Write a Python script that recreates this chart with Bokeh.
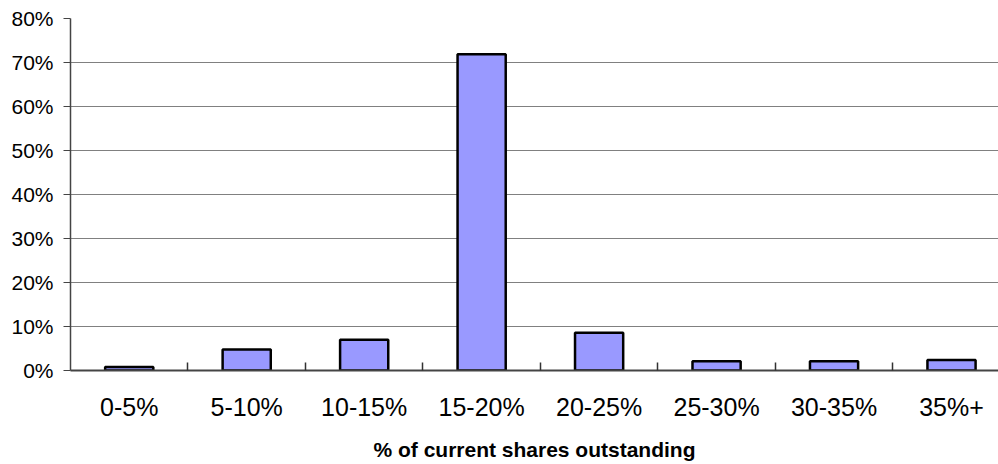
from bokeh.plotting import figure
from bokeh.models import Range1d, FixedTicker, NumeralTickFormatter
from bokeh.embed import file_html
from bokeh.resources import INLINE

categories = ["0-5%", "5-10%", "10-15%", "15-20%", "20-25%", "25-30%", "30-35%", "35%+"]
shares = [0.008, 0.048, 0.070, 0.719, 0.086, 0.021, 0.021, 0.024]
y_ticks = [0.0, 0.1, 0.2, 0.3, 0.4, 0.5, 0.6, 0.7, 0.8]
x_title = "% of current shares outstanding"

n = len(categories)
centers = [i + 0.5 for i in range(n)]
bounds = [i for i in range(1, n)]

p = figure(width=998, height=464, output_backend="svg", toolbar_location=None,
           x_range=Range1d(0, 7.9), y_range=Range1d(0, 0.8),
           min_border_left=70, min_border_right=0, min_border_top=18, min_border_bottom=94)
p.outline_line_color = None
p.background_fill_color = "white"
p.border_fill_color = "white"

p.vbar(x=centers, top=shares, width=0.41, fill_color="#9999FF",
       line_color="black", line_width=2.5)

# x axis
p.xaxis.ticker = FixedTicker(ticks=centers, minor_ticks=bounds)
p.xaxis.major_label_overrides = {c: lab for c, lab in zip(centers, categories)}
p.xaxis.major_tick_in = 0
p.xaxis.major_tick_out = 0
p.xaxis.minor_tick_in = 8
p.xaxis.minor_tick_out = 0
p.xaxis.minor_tick_line_color = "#333333"
p.xaxis.minor_tick_line_width = 1.5
p.xaxis.axis_line_color = "#444444"
p.xaxis.axis_line_width = 2
p.xaxis.major_label_text_font = "Liberation Sans"
p.xaxis.major_label_text_font_size = "25px"
p.xaxis.major_label_text_color = "black"
p.xaxis.major_label_standoff = 22
p.xaxis.axis_label = x_title
p.xaxis.axis_label_text_font = "Liberation Sans"
p.xaxis.axis_label_text_font_size = "21px"
p.xaxis.axis_label_text_font_style = "bold"
p.xaxis.axis_label_text_color = "black"
p.xaxis.axis_label_standoff = 14

# y axis
p.yaxis.ticker = FixedTicker(ticks=y_ticks)
p.yaxis.formatter = NumeralTickFormatter(format="0%")
p.yaxis.major_tick_in = 0
p.yaxis.major_tick_out = 7
p.yaxis.minor_tick_line_color = None
p.yaxis.major_tick_line_color = "#444444"
p.yaxis.axis_line_color = "#444444"
p.yaxis.axis_line_width = 1.5
p.yaxis.major_label_text_font = "Liberation Sans"
p.yaxis.major_label_text_font_size = "21px"
p.yaxis.major_label_text_color = "black"
p.yaxis.major_label_standoff = 10

p.xgrid.visible = False
p.ygrid.grid_line_color = "#808080"
p.ygrid.grid_line_width = 1.2

open("out.html", "w").write(file_html(p, INLINE))
